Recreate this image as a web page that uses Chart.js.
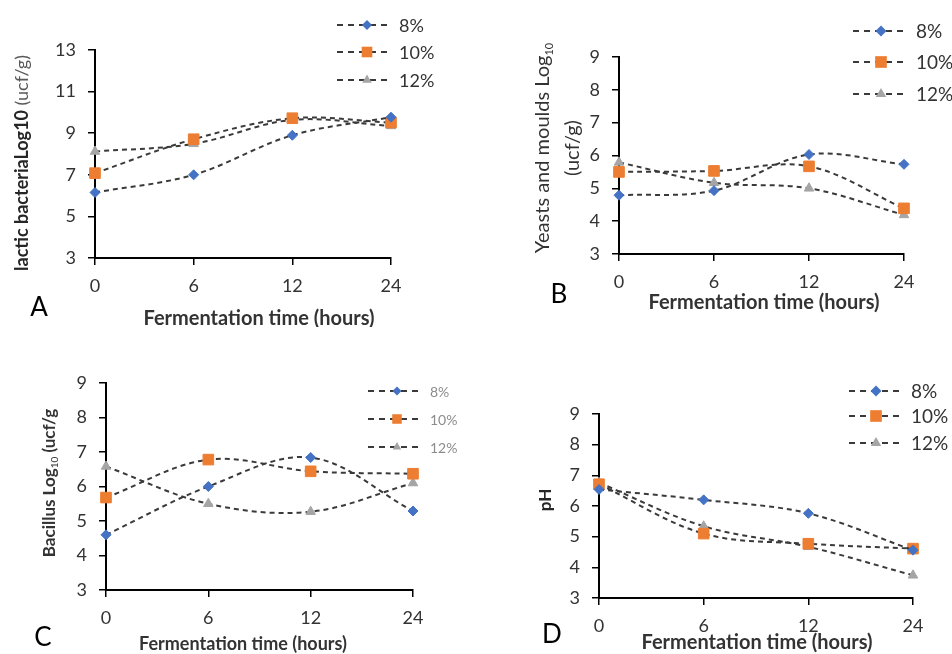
<!DOCTYPE html>
<html>
<head>
<meta charset="utf-8">
<script src="https://cdn.jsdelivr.net/npm/chart.js@4.4.1/dist/chart.umd.min.js"></script>
<style>
  html, body { margin: 0; padding: 0; background: #fff; }
  #wrap { position: relative; width: 952px; height: 654px; overflow: hidden; background: #fff; }
  #wrap canvas { position: absolute; }
</style>
</head>
<body>
<div id="wrap">
  <canvas id="chartA" width="476" height="327" style="left:0;top:0"></canvas>
  <canvas id="chartB" width="476" height="327" style="left:476px;top:0"></canvas>
  <canvas id="chartC" width="476" height="327" style="left:0;top:327px"></canvas>
  <canvas id="chartD" width="476" height="327" style="left:476px;top:327px"></canvas>
</div>
<script>
// data
const hours = ['0', '6', '12', '24'];
const seriesNames = ['8%', '10%', '12%'];

const lactic8 = [6.15, 7.0, 8.9, 9.77];
const lactic10 = [7.08, 8.71, 9.72, 9.51];
const lactic12 = [8.12, 8.49, 9.64, 9.35];

const yeast8 = [4.79, 4.93, 6.03, 5.73];
const yeast10 = [5.5, 5.53, 5.67, 4.39];
const yeast12 = [5.79, 5.17, 5.0, 4.19];

const bacillus8 = [4.6, 6.0, 6.84, 5.29];
const bacillus10 = [5.68, 6.78, 6.44, 6.37];
const bacillus12 = [6.58, 5.5, 5.27, 6.1];

const ph8 = [6.54, 6.2, 5.76, 4.56];
const ph10 = [6.71, 5.1, 4.77, 4.61];
const ph12 = [6.76, 5.34, 4.67, 3.74];

const yRangeA = { min: 3, max: 13, step: 2 };
const yRangeOther = { min: 3, max: 9, step: 1 };

const FONT = 'Lato, "Open Sans", sans-serif';
const markerColors = ['#4472C4', '#ED7D31', '#A5A5A5'];
const markerStyles = ['rectRot', 'rect', 'triangle'];
const markerSizes = [5, 7.5, 5.5];

function makeDatasets (values) {
    return values.map((v, i) => ({
        label: seriesNames[i],
        data: v,
        borderColor: '#3a3a3a',
        borderWidth: 2,
        borderDash: [5, 4],
        tension: 0.35,
        pointStyle: markerStyles[i],
        pointRadius: markerSizes[i],
        pointBackgroundColor: markerColors[i],
        pointBorderColor: markerColors[i],
        pointBorderWidth: 1,
        clip: false
    }));
}

function drawMarker (ctx, style, x, y, r, color) {
    ctx.save();
    ctx.fillStyle = color;
    ctx.beginPath();
    if (style === 'rectRot') {
        ctx.moveTo(x, y - r); ctx.lineTo(x + r, y); ctx.lineTo(x, y + r); ctx.lineTo(x - r, y);
    } else if (style === 'rect') {
        const s = r * Math.SQRT1_2;
        ctx.rect(x - s, y - s, 2 * s, 2 * s);
    } else {
        const h = r * 1.5;
        ctx.moveTo(x, y - r); ctx.lineTo(x + h * 0.577, y + r * 0.5); ctx.lineTo(x - h * 0.577, y + r * 0.5);
    }
    ctx.closePath();
    ctx.fill();
    ctx.restore();
}

// draws a run of text pieces centred on (cx, cy), optionally rotated
function drawParts (ctx, parts, cx, cy, rotate) {
    ctx.save();
    ctx.translate(cx, cy);
    if (rotate) ctx.rotate(-Math.PI / 2);
    ctx.textBaseline = 'middle';
    ctx.textAlign = 'left';
    let total = 0;
    parts.forEach(p => { ctx.font = p.font; total += ctx.measureText(p.t).width; });
    let x = -total / 2;
    parts.forEach(p => {
        ctx.font = p.font;
        ctx.fillStyle = p.color;
        ctx.fillText(p.t, x, p.dy || 0);
        x += ctx.measureText(p.t).width;
    });
    ctx.restore();
}

const decorPlugin = {
    id: 'decor',
    afterDraw (chart) {
        const d = chart.options.plugins.decor;
        const ctx = chart.ctx;
        // legend
        chart.data.datasets.forEach((ds, i) => {
            const y = d.legend.rows[i];
            ctx.save();
            ctx.strokeStyle = '#3a3a3a';
            ctx.lineWidth = 2;
            ctx.setLineDash([6, 5]);
            ctx.beginPath();
            ctx.moveTo(d.legend.x1, y);
            ctx.lineTo(d.legend.x2, y);
            ctx.stroke();
            ctx.restore();
            drawMarker(ctx, ds.pointStyle, d.legend.mx, y, ds.pointRadius * d.legend.scale, ds.pointBackgroundColor);
            ctx.save();
            ctx.font = d.legend.font;
            ctx.fillStyle = d.legend.color;
            ctx.textBaseline = 'middle';
            ctx.fillText(ds.label, d.legend.tx, y + 1);
            ctx.restore();
        });
        // axis titles
        d.yTitle.forEach(line => drawParts(ctx, line.parts, line.x, line.y, true));
        drawParts(ctx, [{ t: 'Fermentation time (hours)', font: 'bold ' + d.xTitle.size + 'px ' + FONT, color: '#333' }], d.xTitle.x, d.xTitle.y, false);
        // panel letter
        drawParts(ctx, [{ t: d.letter.t, font: '26px ' + FONT, color: '#000' }], d.letter.x, d.letter.y, false);
    }
};

function makeChart (id, values, yRange, area, decor) {
    const yw = 40, xh = 40, W = 476, H = 327;
    return new Chart(document.getElementById(id), {
        type: 'line',
        data: { labels: hours, datasets: makeDatasets(values) },
        plugins: [decorPlugin],
        options: {
            responsive: false,
            animation: false,
            layout: {
                padding: { left: area.l - yw, top: area.t, right: W - area.r, bottom: H - area.b - xh }
            },
            plugins: {
                legend: { display: false },
                tooltip: { enabled: false },
                decor: decor
            },
            scales: {
                x: {
                    offset: false,
                    afterFit: s => { s.height = xh; },
                    grid: { display: true, drawOnChartArea: false, drawTicks: true, tickLength: 7, color: '#000', lineWidth: 1.5 },
                    border: { display: true, color: '#000', width: 2 },
                    ticks: { color: '#333', font: { family: FONT, size: 18 }, padding: 10, maxRotation: 0 }
                },
                y: {
                    min: yRange.min,
                    max: yRange.max,
                    afterFit: s => { s.width = yw; },
                    grid: { display: true, drawOnChartArea: false, drawTicks: true, tickLength: 7, color: '#000', lineWidth: 1.5 },
                    border: { display: true, color: '#000', width: 2 },
                    ticks: { stepSize: yRange.step, color: '#333', font: { family: FONT, size: 18 }, padding: 12 }
                }
            }
        }
    });
}

makeChart('chartA', [lactic8, lactic10, lactic12], yRangeA,
    { l: 95, t: 50, r: 391, b: 258 },
    {
        legend: { x1: 337, x2: 392, mx: 367, tx: 399, rows: [25, 52, 80], font: '18px ' + FONT, color: '#333', scale: 1 },
        yTitle: [{ x: 22, y: 163, parts: [
            { t: 'lactic bacteriaLog10', font: 'bold 18px ' + FONT, color: '#262626' },
            { t: ' (ucf/g)', font: '18px ' + FONT, color: '#595959' }
        ] }],
        xTitle: { x: 259, y: 319, size: 20 },
        letter: { t: 'A', x: 39, y: 308 }
    });

makeChart('chartB', [yeast8, yeast10, yeast12], yRangeOther,
    { l: 143, t: 57, r: 428, b: 254 },
    {
        legend: { x1: 377, x2: 432, mx: 405, tx: 440, rows: [31, 62, 94], font: '19px ' + FONT, color: '#333', scale: 1.1 },
        yTitle: [
            { x: 67, y: 148, parts: [
                { t: 'Yeasts and moulds Log', font: '20px ' + FONT, color: '#333' },
                { t: '10', font: '11px ' + FONT, color: '#333', dy: 6 }
            ] },
            { x: 97, y: 148, parts: [{ t: '(ucf/g)', font: '20px ' + FONT, color: '#333' }] }
        ],
        xTitle: { x: 288, y: 303, size: 20 },
        letter: { t: 'B', x: 83, y: 295 }
    });

makeChart('chartC', [bacillus8, bacillus10, bacillus12], yRangeOther,
    { l: 106, t: 56, r: 413, b: 263 },
    {
        legend: { x1: 368, x2: 423, mx: 397, tx: 430, rows: [64, 92, 120], font: '14px ' + FONT, color: '#8c8c8c', scale: 0.9 },
        yTitle: [{ x: 50, y: 156, parts: [
            { t: 'Bacillus Log', font: 'bold 17px ' + FONT, color: '#333' },
            { t: '10', font: '10px ' + FONT, color: '#333', dy: 5 },
            { t: ' (ucf/g', font: 'bold 17px ' + FONT, color: '#333' }
        ] }],
        xTitle: { x: 243, y: 317, size: 18 },
        letter: { t: 'C', x: 43, y: 311 }
    });

makeChart('chartD', [ph8, ph10, ph12], yRangeOther,
    { l: 123, t: 87, r: 437, b: 271 },
    {
        legend: { x1: 373, x2: 427, mx: 400, tx: 435, rows: [64, 89, 116], font: '19px ' + FONT, color: '#333', scale: 1.1 },
        yTitle: [{ x: 70, y: 173, parts: [{ t: 'pH', font: 'bold 17px ' + FONT, color: '#262626' }] }],
        xTitle: { x: 281, y: 316, size: 20 },
        letter: { t: 'D', x: 76, y: 308 }
    });
</script>
</body>
</html>
